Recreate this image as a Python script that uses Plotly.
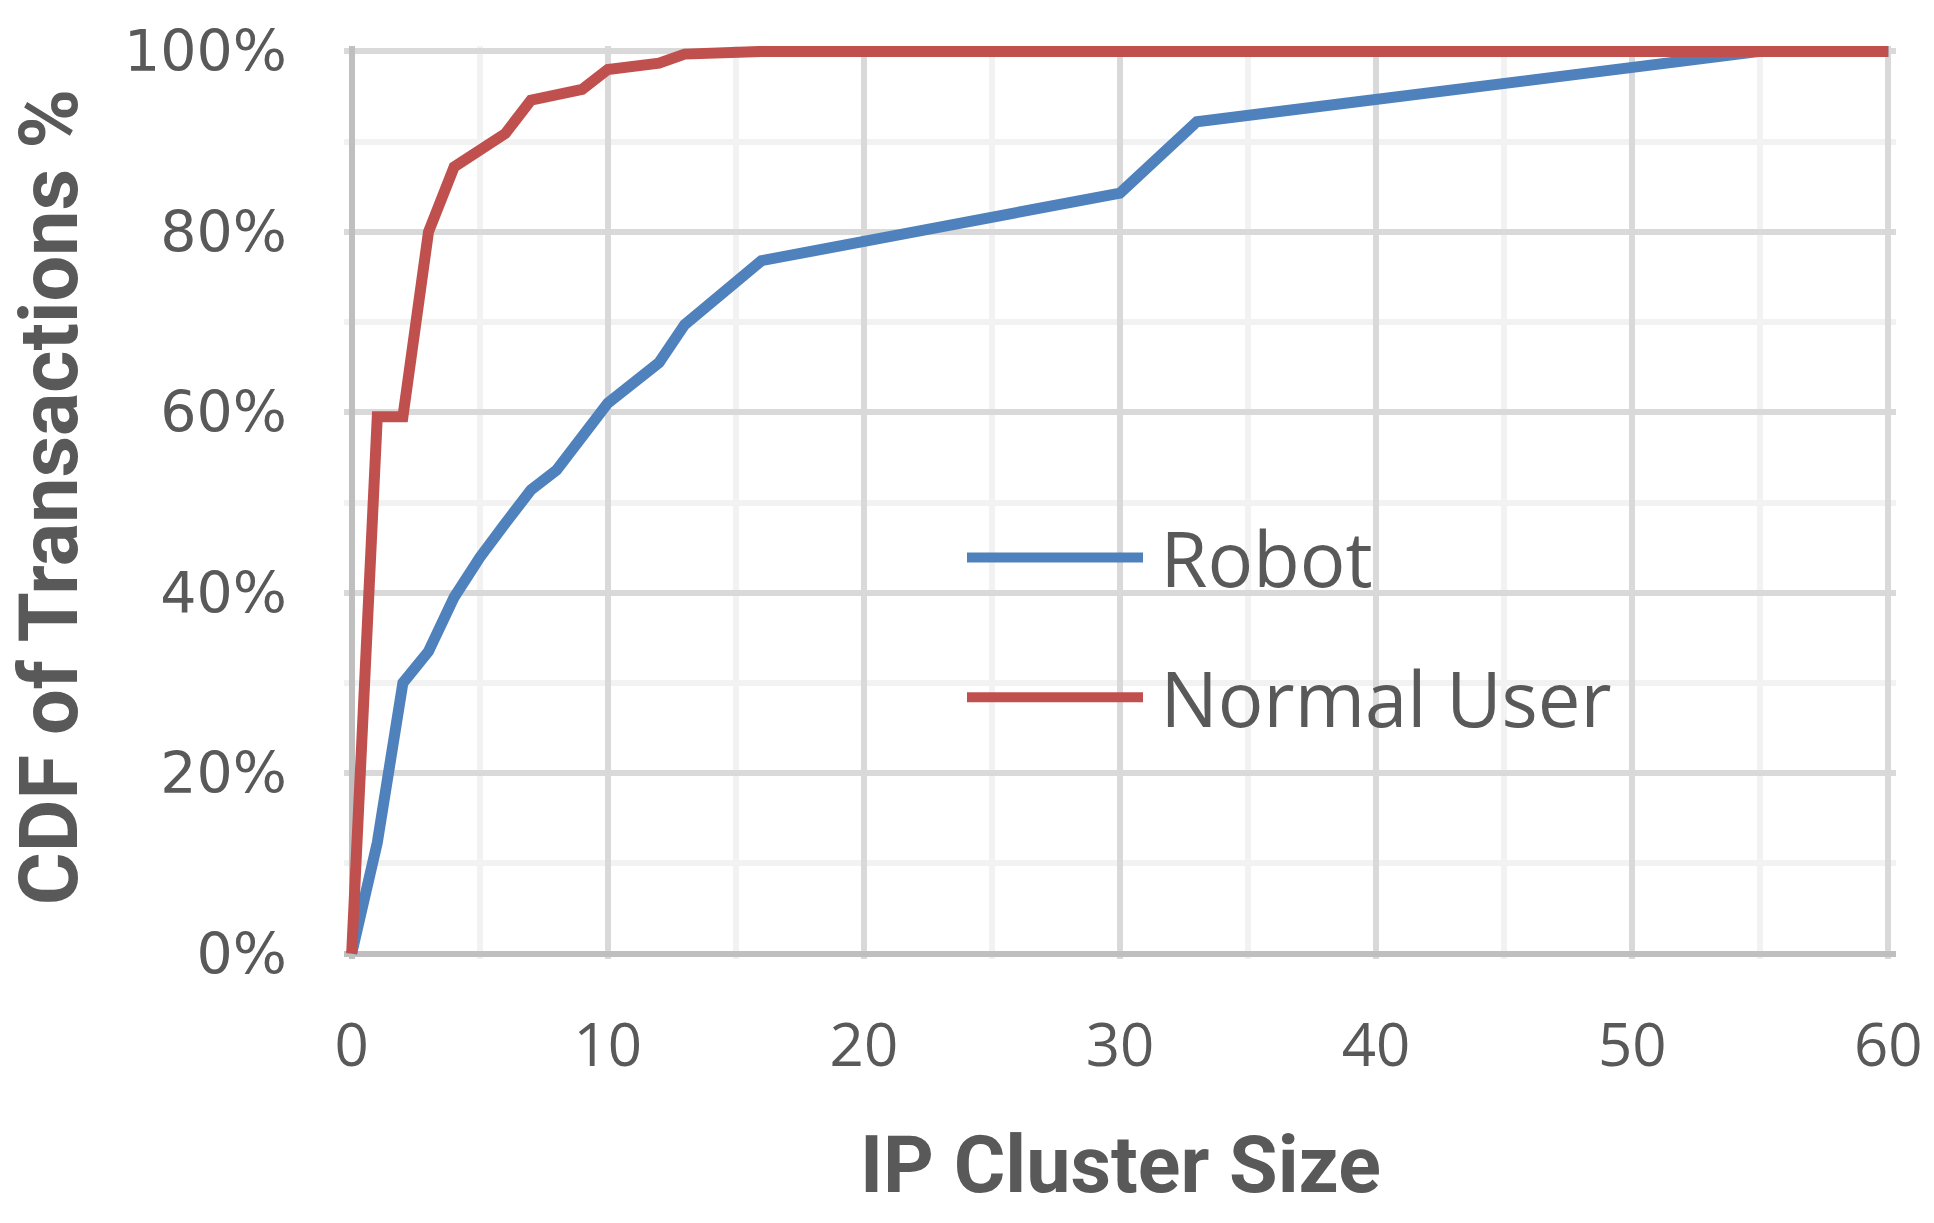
import plotly.graph_objects as go

# ---- data ----
robot_x = [0, 1, 2, 3, 4, 5, 6, 7, 8, 10, 12, 13, 16, 30, 33, 55, 60]
robot_y = [0, 12.3, 30, 33.5, 39.5, 43.9, 47.7, 51.4, 53.6, 61, 65.5, 69.7, 76.8, 84.3, 92.2, 100, 100]
normal_x = [0, 1, 2, 3, 4, 6, 7, 9, 10, 12, 13, 16, 60]
normal_y = [0, 59.5, 59.5, 80, 87.2, 90.9, 94.6, 95.8, 98, 98.7, 99.7, 100, 100]
x_ticks = [0, 10, 20, 30, 40, 50, 60]
y_ticks = [0, 20, 40, 60, 80, 100]
y_tick_labels = ["0%", "20%", "40%", "60%", "80%", "100%"]
series_names = ["Robot", "Normal User"]

TEXT = "#595959"
BLUE = "#4F81BD"
RED = "#C0504D"

fig = go.Figure()
fig.add_trace(go.Scatter(x=robot_x, y=robot_y, mode="lines", name="\u2009" + series_names[0],
                         legendgroup="a",
                         line=dict(color=BLUE, width=11)))
fig.add_trace(go.Scatter(x=normal_x, y=normal_y, mode="lines", name="\u2009" + series_names[1],
                         legendgroup="b",
                         line=dict(color=RED, width=11)))

fig.update_layout(
    width=1934, height=1223,
    margin=dict(l=344.3, r=38.3, t=46.3, b=263.9),
    paper_bgcolor="white", plot_bgcolor="white",
    font=dict(family="Open Sans", color=TEXT),
    showlegend=True,
    legend=dict(x=0.3982, y=0.5010, xanchor="left", yanchor="top",
                font=dict(family="Open Sans", size=76, color=TEXT),
                itemwidth=176, tracegroupgap=38,
                bgcolor="rgba(0,0,0,0)", borderwidth=0),
    xaxis=dict(range=[-0.3, 60.3], tickvals=x_ticks, ticks="",
               showline=False, zeroline=True, zerolinecolor="#BFBFBF", zerolinewidth=6,
               showgrid=True, gridcolor="#D9D9D9", gridwidth=5.5,
               minor=dict(dtick=5, tick0=0, showgrid=True, gridcolor="#F2F2F2", gridwidth=5.5),
               tickfont=dict(family="Open Sans", size=60, color=TEXT),
               ticklabelstandoff=46, fixedrange=True),
    yaxis=dict(range=[-0.6, 100.6], tickvals=y_ticks, ticktext=y_tick_labels, ticks="",
               showline=False, zeroline=True, zerolinecolor="#BFBFBF", zerolinewidth=6,
               showgrid=True, gridcolor="#D9D9D9", gridwidth=5.5,
               minor=dict(dtick=10, tick0=0, showgrid=True, gridcolor="#F2F2F2", gridwidth=5.5),
               tickfont=dict(family="DejaVu Sans", size=57, color=TEXT),
               ticklabelstandoff=56, fixedrange=True),
    annotations=[
        dict(text="<b>CDF of Transactions %</b>", xref="paper", yref="paper",
             x=-0.1900, y=0.5060, xanchor="center", yanchor="middle", textangle=-90,
             showarrow=False, font=dict(family="Roboto", size=81, color=TEXT)),
        dict(text="<b>IP Cluster Size</b>", xref="paper", yref="paper",
             x=0.5, y=-0.2256, xanchor="center", yanchor="middle",
             showarrow=False, font=dict(family="Roboto", size=79, color=TEXT)),
    ],
)

fig.write_html("out.html", config={"displayModeBar": False},
               post_script="document.body.style.margin='0';document.body.style.padding='0';")
